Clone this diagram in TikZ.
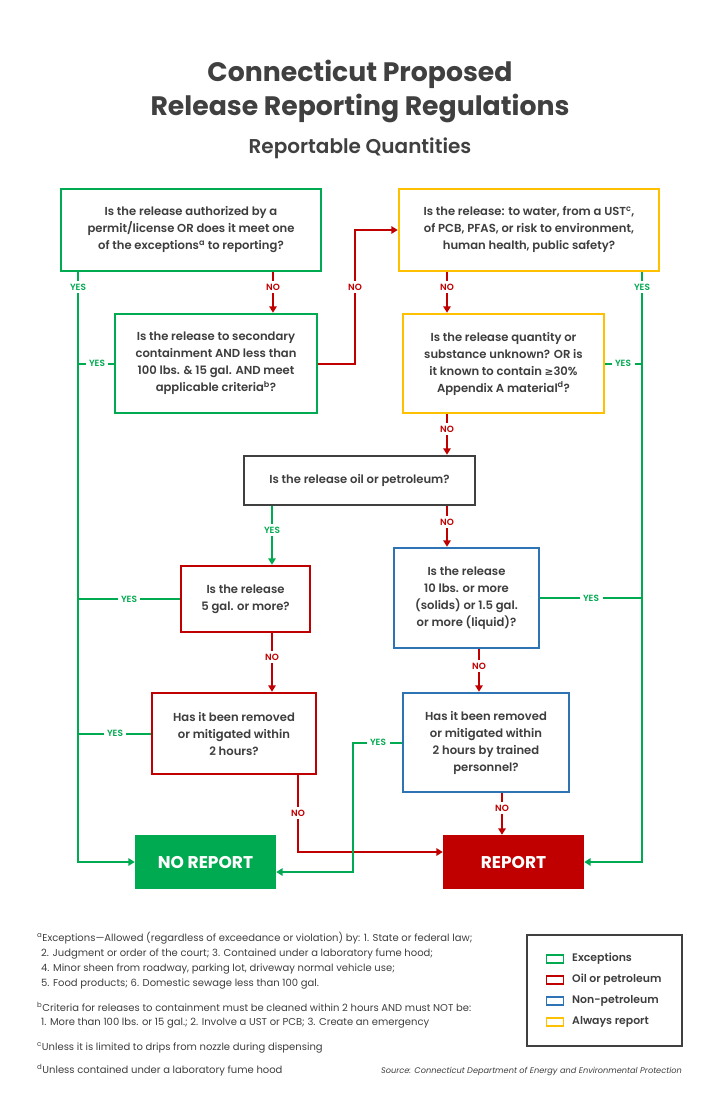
\documentclass[tikz,border=0pt]{standalone}
\usepackage{fontspec}
\setmainfont{Poppins}[BoldFont={Poppins SemiBold}]
\newfontfamily\titlefont{Poppins}[UprightFont={Poppins Bold}]
\newfontfamily\dv{DejaVu Sans}
\usetikzlibrary{arrows.meta}
\definecolor{cgreen}{RGB}{0,170,80}
\definecolor{cred}{RGB}{192,0,0}
\definecolor{cblue}{RGB}{46,116,181}
\definecolor{cyellow}{RGB}{255,192,0}
\definecolor{cgray}{RGB}{64,64,64}
\definecolor{ctext}{RGB}{62,62,62}
\begin{document}
\begin{tikzpicture}[x=1pt,y=-1pt,
  qbox/.style={draw=#1,line width=2.5pt,fill=white,align=center,text=ctext,
    font=\bfseries\fontsize{11.6}{17}\selectfont,inner sep=0pt},
  endbox/.style={fill=#1,text=white,font=\titlefont\fontsize{17}{19}\selectfont,
    minimum width=141pt,minimum height=54pt,inner sep=0pt},
  gline/.style={draw=cgreen,line width=2pt},
  rline/.style={draw=cred,line width=2pt},
  tip/.style={-{Triangle[length=6.5pt,width=7.5pt]}},
  lbl/.style={fill=white,font=\bfseries\fontsize{9}{10}\selectfont,inner xsep=3.5pt,inner ysep=3pt},
  ylbl/.style={lbl,text=cgreen},
  nlbl/.style={lbl,text=cred},
  fn/.style={anchor=base west,text=ctext,font=\fontsize{10}{12}\selectfont,inner sep=0pt},
  swatch/.style={draw=#1,line width=1.3pt,minimum width=17pt,minimum height=8pt,inner sep=0pt},
  leg/.style={anchor=west,text=ctext,font=\bfseries\fontsize{10.9}{12}\selectfont,inner sep=0pt}
]
\useasboundingbox (0,0) rectangle (720,1111);

% titles
\node[text=cgray,font=\titlefont\fontsize{26.7}{34}\selectfont,align=center] (title) at (360,91)
  {Connecticut Proposed\\Release Reporting Regulations};
\node[text=cgray,font=\bfseries\fontsize{20}{22}\selectfont] (sub) at (360,148) {Reportable Quantities};

% lanes
\coordinate (lx) at (78,0);
\coordinate (ax) at (273,0);
\coordinate (nx) at (355,0);
\coordinate (cx) at (447,0);
\coordinate (rx) at (642,0);
\coordinate (fx) at (272,0);
\coordinate (gx) at (479,0);
\coordinate (hx) at (298,0);
\coordinate (ix) at (353,0);
\coordinate (jx) at (502,0);

% boxes
\node[qbox=cgreen,minimum width=260pt,minimum height=82pt] (A) at (191,230)
  {Is the release authorized by a\\permit/license OR does it meet one\\of the exceptions\textsuperscript{a} to reporting?};
\node[qbox=cgreen,minimum width=202pt,minimum height=99pt] (B) at (216,363.5)
  {Is the release to secondary\\containment AND less than\\100 lbs. \& 15 gal. AND meet\\applicable criteria\textsuperscript{b}?};
\node[qbox=cyellow,minimum width=260pt,minimum height=82pt] (C) at (529,230)
  {Is the release: to water, from a UST\textsuperscript{c},\\of PCB, PFAS, or risk to environment,\\human health, public safety?};
\node[qbox=cyellow,minimum width=201pt,minimum height=99pt] (D) at (503.5,363.5)
  {Is the release quantity or\\substance unknown? OR is\\it known to contain {\dv\bfseries\fontsize{10.5}{17}\selectfont ≥}30\%\\Appendix A material\textsuperscript{d}?};
\node[qbox=cgray,minimum width=231pt,minimum height=49pt] (E) at (359.5,480.5)
  {Is the release oil or petroleum?};
\node[qbox=cred,minimum width=129pt,minimum height=66pt] (F) at (245.5,599)
  {Is the release\\5 gal. or more?};
\node[qbox=cblue,minimum width=145pt,minimum height=100pt] (G) at (466.5,598)
  {Is the release\\10 lbs. or more\\(solids) or 1.5 gal.\\or more (liquid)?};
\node[qbox=cred,minimum width=164pt,minimum height=81pt] (H) at (234,733.5)
  {Has it been removed\\or mitigated within\\2 hours?};
\node[qbox=cblue,minimum width=166pt,minimum height=99pt] (I) at (486,742.5)
  {Has it been removed\\or mitigated within\\2 hours by trained\\personnel?};
\node[endbox=cgreen] (NR) at (205.5,862) {NO REPORT};
\node[endbox=cred] (R) at (513.5,862) {REPORT};

\coordinate (hy) at ([yshift=10pt]R.west);
\coordinate (iy) at ([yshift=-10pt]NR.east);

% connectors
\draw[gline,tip] (A.south -| lx) |- (NR.west);
\draw[rline,tip] (A.south -| ax) -- (B.north -| ax);
\draw[gline] (B.west) -- (B.west -| lx);
\draw[rline,tip] (B.east) -| (nx |- C.west) -- (C.west);
\draw[rline,tip] (C.south -| cx) -- (D.north -| cx);
\draw[gline,tip] (C.south -| rx) |- (R.east);
\draw[gline] (D.east) -- (D.east -| rx);
\draw[rline,tip] (D.south -| cx) -- (E.north -| cx);
\draw[gline,tip] (E.south -| fx) -- (F.north -| fx);
\draw[rline,tip] (E.south -| cx) -- (G.north -| cx);
\draw[gline] (F.west) -- (F.west -| lx);
\draw[rline,tip] (F.south -| fx) -- (H.north -| fx);
\draw[gline] (G.east) -- (G.east -| rx);
\draw[rline,tip] (G.south -| gx) -- (I.north -| gx);
\draw[gline] (H.west) -- (H.west -| lx);
\draw[rline,tip] (H.south -| hx) |- (hy);
\draw[gline,tip] (I.west) -| (ix |- iy) -- (iy);
\draw[rline,tip] (I.south -| jx) -- (R.north -| jx);

% labels
\node[ylbl] (l1) at (78,287) {YES};
\node[nlbl] (l2) at (273,287) {NO};
\node[nlbl] (l3) at (355,287) {NO};
\node[nlbl] (l4) at (447,287) {NO};
\node[ylbl] (l5) at (642,287) {YES};
\node[ylbl] (l6) at (97,363.5) {YES};
\node[ylbl] (l7) at (623,363.5) {YES};
\node[nlbl] (l8) at (447,429) {NO};
\node[ylbl] (l9) at (272,530) {YES};
\node[nlbl] (l10) at (447,522) {NO};
\node[ylbl] (l11) at (129,599) {YES};
\node[ylbl] (l12) at (591,598) {YES};
\node[nlbl] (l13) at (272,657) {NO};
\node[nlbl] (l14) at (479,666) {NO};
\node[ylbl] (l15) at (115,733.5) {YES};
\node[ylbl] (l16) at (378,742.5) {YES};
\node[nlbl] (l17) at (298,813) {NO};
\node[nlbl] (l18) at (502,808) {NO};

% footnotes
\node[fn] (f1) at (37,941) {\textsuperscript{a}Exceptions—Allowed (regardless of exceedance or violation) by: 1. State or federal law;};
\node[fn] (f2) at (41,956) {2. Judgment or order of the court; 3. Contained under a laboratory fume hood;};
\node[fn] (f3) at (41,971) {4. Minor sheen from roadway, parking lot, driveway normal vehicle use;};
\node[fn] (f4) at (41,986) {5. Food products; 6. Domestic sewage less than 100 gal.};
\node[fn] (f5) at (37,1011) {\textsuperscript{b}Criteria for releases to containment must be cleaned within 2 hours AND must NOT be:};
\node[fn] (f6) at (41,1025) {1. More than 100 lbs. or 15 gal.; 2. Involve a UST or PCB; 3. Create an emergency};
\node[fn] (f7) at (37,1050) {\textsuperscript{c}Unless it is limited to drips from nozzle during dispensing};
\node[fn] (f8) at (37,1073) {\textsuperscript{d}Unless contained under a laboratory fume hood};
\node[anchor=base east,text=ctext,font=\itshape\fontsize{8.2}{10}\selectfont,inner sep=0pt] (src) at (682,1073)
  {Source: Connecticut Department of Energy and Environmental Protection};

% legend
\node[draw=cgray,line width=2pt,minimum width=155pt,minimum height=111pt,inner sep=0pt] (legend) at (604.5,990.5) {};
\node[swatch=cgreen] (s1) at (555,959) {};
\node[swatch=cred] (s2) at (555,980) {};
\node[swatch=cblue] (s3) at (555,1001) {};
\node[swatch=cyellow] (s4) at (555,1022) {};
\node[leg] (t1) at (572,959) {Exceptions};
\node[leg] (t2) at (572,980) {Oil or petroleum};
\node[leg] (t3) at (572,1001) {Non-petroleum};
\node[leg] (t4) at (572,1022) {Always report};
\end{tikzpicture}
\end{document}
